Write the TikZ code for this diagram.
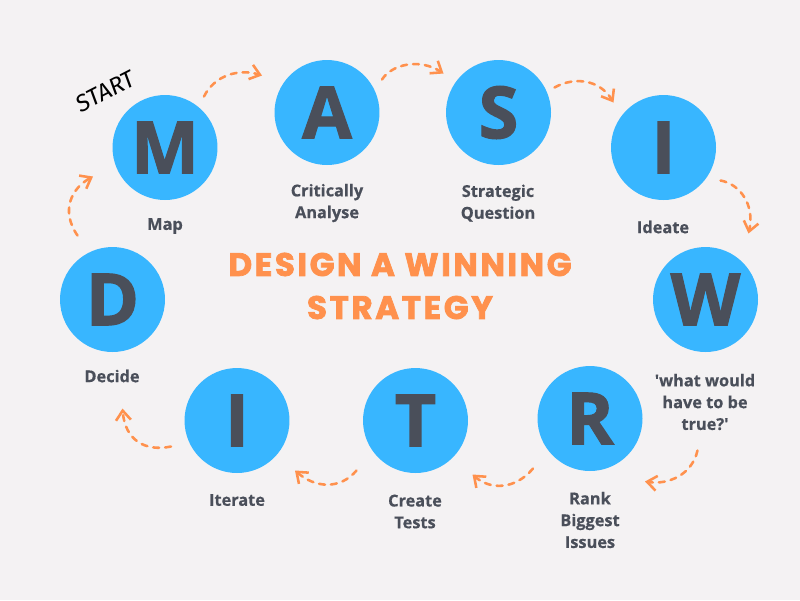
\documentclass[tikz,border=0pt]{standalone}
\usepackage{fontspec}
\setmainfont{Open Sans}
\newfontfamily\letterfont[FakeBold=1.6]{Open Sans Bold}
\newfontfamily\labelfont[FakeBold=0.5]{Open Sans Bold}
\newfontfamily\headfont[LetterSpace=8,FakeBold=2.2]{Poppins Bold}
\newfontfamily\startfont[FakeSlant=0.12]{Fira Sans}
\usetikzlibrary{arrows.meta,calc}

\definecolor{pagebg}{HTML}{F4F2F3}
\definecolor{stepblue}{HTML}{38B6FF}
\definecolor{inkgray}{HTML}{4A4F5A}
\definecolor{arroworange}{HTML}{FF914D}

\tikzset{
    letternode/.style={circle, fill=stepblue, minimum size=2.1cm, inner sep=0pt, text=inkgray, font=\fontsize{41}{41}\selectfont\letterfont},
    labelnode/.style={align=center, text=inkgray, inner sep=0pt, font=\fontsize{9.3}{12.4}\selectfont\labelfont},
    titlenode/.style={align=center, text=arroworange, inner sep=0pt, font=\fontsize{18.5}{24.5}\selectfont\headfont},
    flowarrow/.style={arroworange, line width=1.45pt, line cap=round, dash pattern=on 3.4pt off 3.4pt, -{Straight Barb[length=5.5pt,width=8.5pt,line width=1.45pt]}}
}

\begin{document}
\begin{tikzpicture}[x=0.02cm, y=-0.02cm]
        \fill[pagebg] (0,0) rectangle (800,600);

        \node[letternode] (M) at (165,147.5) {M};
        \node[letternode] (A) at (327,112.5) {A};
        \node[letternode] (S) at (498.5,112.5) {S};
        \node[letternode] (I1) at (663.5,147.5) {I};
        \node[letternode] (W) at (705.5,299.5) {W};
        \node[letternode] (R) at (590,418.5) {R};
        \node[letternode] (T) at (415.5,420.5) {T};
        \node[letternode] (I2) at (237,420.5) {I};
        \node[letternode] (D) at (112.5,299.5) {D};

        \node[labelnode] (maptext) at (165,226) {Map};
        \node[labelnode] (analysetext) at (327,203) {Critically\\Analyse};
        \node[labelnode] (questiontext) at (498,203) {Strategic\\Question};
        \node[labelnode] (ideatetext) at (663,227) {Ideate};
        \node[labelnode] (truetext) at (705,402) {\textquotesingle what would\\have to be\\true?\textquotesingle};
        \node[labelnode] (ranktext) at (590,520) {Rank\\Biggest\\Issues};
        \node[labelnode] (teststext) at (415,511.5) {Create\\Tests};
        \node[labelnode] (iteratetext) at (237,500) {Iterate};
        \node[labelnode] (decidetext) at (112,376) {Decide};

        \node[titlenode] (title) at (400,286) {DESIGN A WINNING\\STRATEGY};
        \node[rotate=27, text=black, inner sep=0pt, font=\fontsize{13.5}{13.5}\selectfont\startfont] (start) at (105,92) {START};

        \draw[flowarrow] ($(M)+(39,-51)$) .. controls (214,76) and (238,68) .. ($(A)+(-65,-37)$);
        \draw[flowarrow] ($(A)+(55,-33)$) .. controls (392,64) and (420,58) .. ($(S)+(-55,-39)$);
        \draw[flowarrow] ($(S)+(56,-25)$) .. controls (575,76) and (600,80) .. ($(I1)+(-50,-45)$);
        \draw[flowarrow] ($(I1)+(57,33)$) .. controls (740,184) and (755,205) .. ($(W)+(43,-66)$);
        \draw[flowarrow] ($(W)+(-8,151)$) .. controls (692,475) and (668,485) .. ($(R)+(55,63)$);
        \draw[flowarrow] ($(R)+(-57,50)$) .. controls (515,490) and (490,490) .. ($(T)+(57,54)$);
        \draw[flowarrow] ($(T)+(-59,50)$) .. controls (340,490) and (315,488) .. ($(I2)+(58,50)$);
        \draw[flowarrow] ($(I2)+(-66,26)$) .. controls (145,452) and (125,440) .. ($(D)+(10,109)$);
        \draw[flowarrow] ($(D)+(-35,-64)$) .. controls (60,210) and (72,188) .. ($(M)+(-72,29)$);
    \end{tikzpicture}
\end{document}
